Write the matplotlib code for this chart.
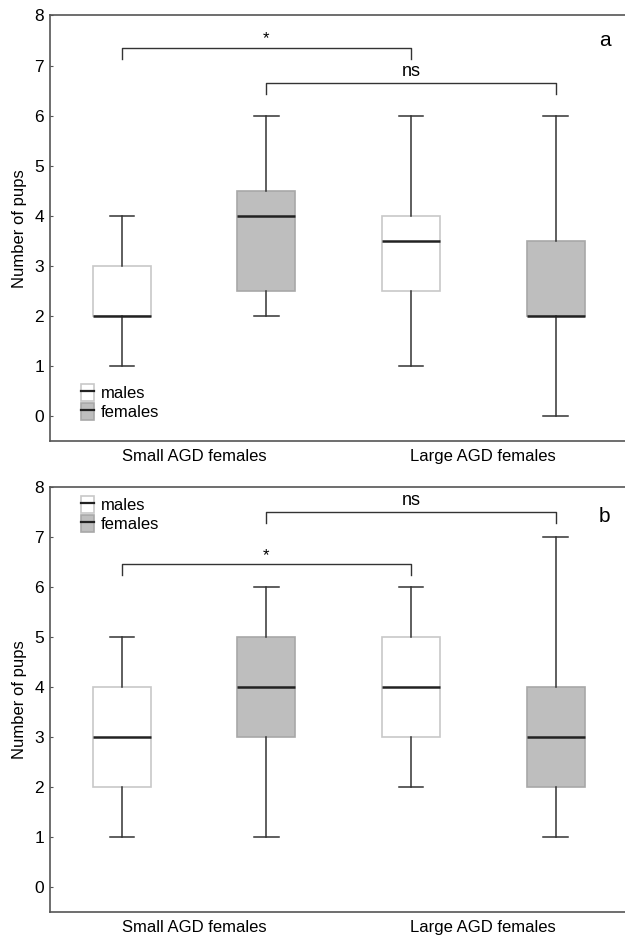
import matplotlib.pyplot as plt
from matplotlib.patches import Patch
from matplotlib.lines import Line2D
from matplotlib.legend_handler import HandlerTuple

plt.rcParams['font.family'] = ['Liberation Sans', 'DejaVu Sans']

# box order: small males, small females, large males, large females
# each stat list: whisker low, q1, median, q3, whisker high
panel_a = [
    [1, 2, 2, 3, 4],
    [2, 2.5, 4, 4.5, 6],
    [1, 2.5, 3.5, 4, 6],
    [0, 2, 2, 3.5, 6],
]
panel_b = [
    [1, 2, 3, 4, 5],
    [1, 3, 4, 5, 6],
    [2, 3, 4, 5, 6],
    [1, 2, 3, 4, 7],
]
group_labels = ['Small AGD females', 'Large AGD females']
sex_labels = ['males', 'females']
panel_names = ['a', 'b']

# brackets: (box from, box to, height, text)
brackets_a = [(0, 2, 7.35, '*'), (1, 3, 6.65, 'ns')]
brackets_b = [(1, 3, 7.5, 'ns'), (0, 2, 6.45, '*')]

face = ['white', '#bebebe']
edge = ['#c8c8c8', '#a8a8a8']
dark = '#333333'


def to_stats(rows):
    out = []
    for r in rows:
        out.append(dict(whislo=r[0], q1=r[1], med=r[2], q3=r[3], whishi=r[4], fliers=[]))
    return out


fig = plt.figure(figsize=(6.25, 9.38), dpi=100)
ax_a = fig.add_axes([0.0792, 0.5299, 0.9208, 0.4536])
ax_b = fig.add_axes([0.0792, 0.0277, 0.9208, 0.4536])

for ax, data, brackets, name in [(ax_a, panel_a, brackets_a, 'a'),
                                 (ax_b, panel_b, brackets_b, 'b')]:
    stats = to_stats(data)
    for i, st in enumerate(stats):
        s = i % 2
        ax.bxp([st], positions=[i], widths=0.4, patch_artist=True,
               showfliers=False,
               boxprops=dict(facecolor=face[s], edgecolor=edge[s], linewidth=1.2),
               medianprops=dict(color='#222222', linewidth=1.8),
               whiskerprops=dict(color=dark, linewidth=1.1),
               capprops=dict(color=dark, linewidth=1.1),
               capwidths=0.17)

    for x0, x1, h, txt in brackets:
        ax.plot([x0, x0, x1, x1], [h - 0.22, h, h, h - 0.22], color=dark, lw=1.0)
        if txt == '*':
            ax.text((x0 + x1) / 2, h + 0.03, txt, ha='center', va='bottom', fontsize=12)
        else:
            ax.text((x0 + x1) / 2, h + 0.06, txt, ha='center', va='bottom', fontsize=13)

    ax.text(0.975, 0.963 if name == 'a' else 0.953, name, transform=ax.transAxes,
            ha='right', va='top', fontsize=15)

    ax.set_xlim(-0.5, 3.48)
    ax.set_ylim(-0.5, 8)
    ax.set_yticks(range(0, 9))
    ax.set_xticks([0.5, 2.5])
    ax.set_xticklabels(group_labels, fontsize=12)
    ax.tick_params(axis='x', length=0, pad=6)
    ax.tick_params(axis='y', direction='in', length=2, labelsize=12.5, pad=4, color='#555555')
    ax.set_ylabel('Number of pups', fontsize=12, labelpad=5)
    ax.spines['right'].set_visible(False)
    for sp in ['left', 'top', 'bottom']:
        ax.spines[sp].set_color('#555555')
        ax.spines[sp].set_linewidth(1.2)

    handles = []
    for s in range(2):
        handles.append((Patch(facecolor=face[s], edgecolor=edge[s], linewidth=1.2),
                        Line2D([], [], color='#222222', lw=1.6)))
    loc = 'lower left' if name == 'a' else 'upper left'
    anchor = (0.035, 0.022) if name == 'a' else (0.035, 1.005)
    ax.legend(handles, sex_labels, handler_map={tuple: HandlerTuple(ndivide=1)},
              loc=loc, bbox_to_anchor=anchor, frameon=False, fontsize=12,
              handlelength=0.75, handleheight=1.15, handletextpad=0.4,
              labelspacing=0.12, borderpad=0.2)

fig.savefig('out.png', dpi=100)
